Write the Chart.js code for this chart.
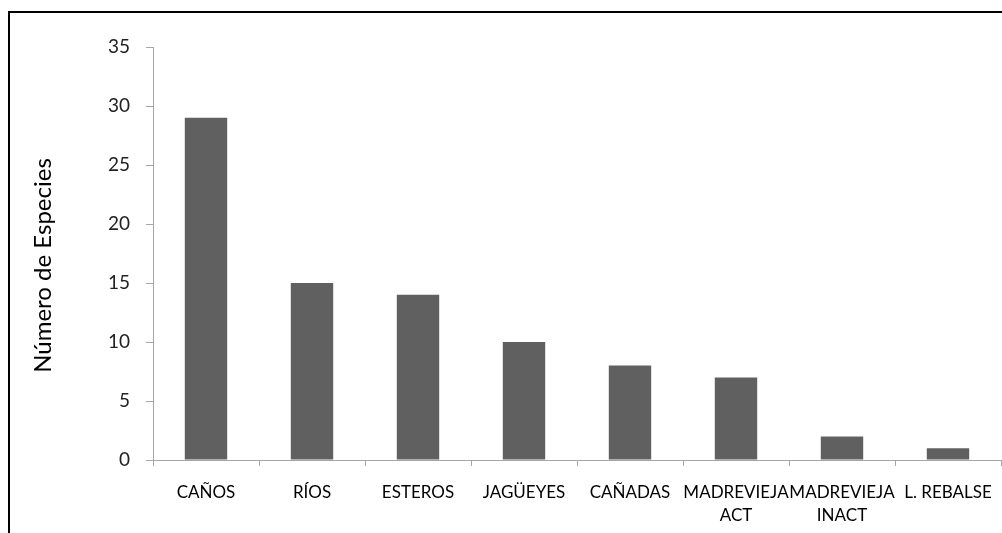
<!DOCTYPE html>
<html>
<head>
<meta charset="utf-8">
<script src="https://cdn.jsdelivr.net/npm/chart.js@4/dist/chart.umd.min.js"></script>
<style>
  html, body { margin: 0; padding: 0; background: #fff; }
  #wrap { position: relative; width: 1002px; height: 533px; overflow: hidden; }
  #frame { position: absolute; left: 8px; top: 11px; width: 1100px; height: 600px;
           border-top: 2px solid #000; border-left: 2px solid #000; pointer-events: none; }
  canvas { position: absolute; left: 0; top: 0; }
</style>
</head>
<body>
<div id="wrap">
  <canvas id="c" width="1002" height="533"></canvas>
  <div id="frame"></div>
</div>
<script>
// Species count per aquatic habitat type
const categories = ['CAÑOS', 'RÍOS', 'ESTEROS', 'JAGÜEYES', 'CAÑADAS',
                    ['MADREVIEJA', 'ACT'], ['MADREVIEJA', 'INACT'], 'L. REBALSE'];
const especies = [29, 15, 14, 10, 8, 7, 2, 1];
const yTicks = [0, 5, 10, 15, 20, 25, 30, 35];
const yTitle = 'Número de Especies';

const axisGrey = '#a6a6a6';
const fontFamily = 'Lato, "Open Sans", sans-serif';

// Vertical axis title, placed a little below the middle of the value axis
const yTitlePlugin = {
  id: 'yTitle',
  afterDraw(chart) {
    const { ctx, chartArea } = chart;
    ctx.save();
    ctx.translate(43, chartArea.top + (chartArea.bottom - chartArea.top) / 2 + 12);
    ctx.rotate(-Math.PI / 2);
    ctx.font = '24px ' + fontFamily;
    ctx.fillStyle = '#000';
    ctx.textAlign = 'center';
    ctx.textBaseline = 'middle';
    ctx.fillText(yTitle, 0, 0);
    ctx.restore();
  }
};

new Chart(document.getElementById('c'), {
  type: 'bar',
  data: {
    labels: categories,
    datasets: [{
      data: especies,
      backgroundColor: '#606060',
      borderWidth: 0,
      barPercentage: 0.4,
      categoryPercentage: 1.0
    }]
  },
  options: {
    responsive: false,
    animation: false,
    devicePixelRatio: 1,
    layout: { padding: { left: 0, right: 1, top: 47, bottom: 0 } },
    plugins: { legend: { display: false }, tooltip: { enabled: false } },
    scales: {
      x: {
        grid: { display: true, drawOnChartArea: false, drawTicks: true, tickLength: 6,
                color: axisGrey, offset: true },
        border: { display: true, color: axisGrey, width: 1 },
        ticks: { color: '#000', font: { family: fontFamily, size: 17, lineHeight: 1.35 }, padding: 15,
                 maxRotation: 0, autoSkip: false },
        afterFit: s => { s.height = 73; s.paddingLeft = 0; s.paddingRight = 0; }
      },
      y: {
        min: 0, max: 35,
        afterBuildTicks: s => { s.ticks = yTicks.map(v => ({ value: v })); },
        grid: { display: true, drawOnChartArea: false, drawTicks: true, tickLength: 7,
                color: axisGrey },
        border: { display: true, color: axisGrey, width: 1 },
        ticks: { color: '#222', font: { family: fontFamily, size: 19 }, padding: 16 },
        afterFit: s => { s.width = 153; }
      }
    }
  },
  plugins: [yTitlePlugin]
});
</script>
</body>
</html>
